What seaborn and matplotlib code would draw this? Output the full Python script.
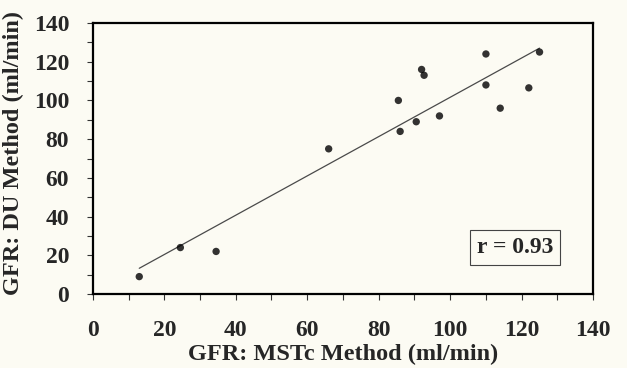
import matplotlib
matplotlib.use("Agg")
import matplotlib.pyplot as plt
import seaborn as sns
import pandas as pd
from matplotlib.ticker import MultipleLocator

mstc = [13, 24.5, 34.5, 66, 85.5, 86, 90.5, 92, 92.7, 97, 110, 110, 114, 122, 125]
du = [9, 24, 22, 75, 100, 84, 89, 116, 113, 92, 124, 108, 96, 106.5, 125]
x_label = "GFR: MSTc Method (ml/min)"
y_label = "GFR: DU Method (ml/min)"
r_text = "r = 0.93"

df = pd.DataFrame({"mstc": mstc, "du": du})

sns.set_style("white")
plt.rcParams['font.family'] = ['Liberation Serif', 'DejaVu Serif']
plt.rcParams['font.weight'] = 'bold'

bg = '#fcfbf3'
fig = plt.figure(figsize=(6.27, 3.68), dpi=100, facecolor=bg)
ax = fig.add_axes([0.148, 0.201, 0.798, 0.7365])
ax.set_facecolor(bg)

sns.regplot(data=df, x="mstc", y="du", ax=ax, ci=None,
            scatter_kws=dict(s=28, color='black', edgecolor='none', zorder=3),
            line_kws=dict(color='#4a4a4a', lw=0.9, zorder=2))

ax.set_xlim(0, 140)
ax.set_ylim(0, 140)
ax.xaxis.set_major_locator(MultipleLocator(20))
ax.xaxis.set_minor_locator(MultipleLocator(10))
ax.yaxis.set_major_locator(MultipleLocator(20))
ax.yaxis.set_minor_locator(MultipleLocator(10))
ax.tick_params(axis='both', which='both', direction='out', length=4, width=0.8,
               color='#333333', bottom=True, left=True)
ax.tick_params(axis='x', which='major', pad=15, labelsize=17)
ax.tick_params(axis='y', which='major', pad=13, labelsize=17)
for lab in ax.get_xticklabels() + ax.get_yticklabels():
    lab.set_fontweight('bold')

for sp in ax.spines.values():
    sp.set_color('black')
    sp.set_linewidth(1.6)

ax.set_xlabel(x_label, fontsize=17.5, fontweight='bold', labelpad=2)
ax.set_ylabel(y_label, fontsize=17.5, fontweight='bold')
ax.yaxis.set_label_coords(-0.148 * 627 / 500 + 14 / 500, 0.522)
ax.yaxis.label.set_va('center')

ax.text(0.844, 0.173, r_text, transform=ax.transAxes, ha='center', va='center',
        fontsize=17, fontweight='bold',
        bbox=dict(boxstyle='square,pad=0.3', facecolor=bg, edgecolor='#444444', lw=0.8))

fig.savefig("out.png", dpi=100, facecolor=bg)
